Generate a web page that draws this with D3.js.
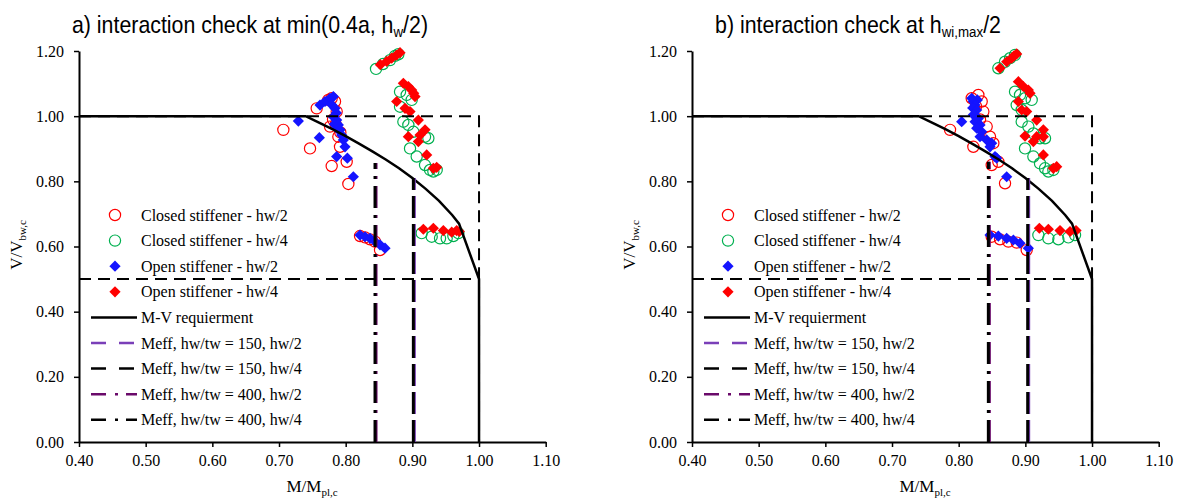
<!DOCTYPE html>
<html><head><meta charset="utf-8">
<script src="https://cdn.jsdelivr.net/npm/d3@7/dist/d3.min.js"></script>
<style>body{margin:0;background:#fff}svg{display:block}</style>
</head><body>
<svg id="c" width="1182" height="504"></svg>
<script>
// ---------- data ----------
const xTicks = [0.4,0.5,0.6,0.7,0.8,0.9,1.0,1.1];
const yTicks = [0,0.2,0.4,0.6,0.8,1.0,1.2];

// M-V requirement curve (same in both panels)
const mvX = [0.40,0.74,0.76,0.78,0.80,0.82,0.84,0.86,0.88,0.90,0.92,0.94,0.96,0.97,1.00,1.00];
const mvY = [1.00,1.00,0.980,0.960,0.939,0.916,0.892,0.867,0.840,0.810,0.777,0.740,0.696,0.670,0.50,0.00];

// dashed limits
const limitBoxX = [0.40,1.00,1.00];
const limitBoxY = [1.00,1.00,0.00];
const limitHalfX = [0.40,1.00];
const limitHalfY = [0.50,0.50];

// Meff vertical lines [x, top]
const meff150_a = [0.9015,0.810];
const meff400_a = [0.8440,0.856];
const meff150_b = [0.9035,0.810];
const meff400_b = [0.8445,0.860];

// panel a) points
const closedHw2_a = [[0.7065,0.958],[0.7565,1.024],[0.779,1.055],[0.784,1.045],[0.7865,1.014],[0.774,1.050],[0.781,0.990],[0.7765,0.968],[0.785,0.975],[0.792,0.950],[0.789,0.937],[0.7465,0.901],[0.7915,0.906],[0.779,0.847],[0.8015,0.860],[0.804,0.792],
  [0.8215,0.632],[0.829,0.628],[0.8365,0.622],[0.844,0.615],[0.8515,0.589]];
const closedHw4_a = [[0.8455,1.145],[0.856,1.160],[0.8665,1.172],[0.874,1.185],[0.879,1.190],
  [0.8815,1.075],[0.8915,1.065],[0.899,1.050],[0.8815,1.029],[0.8865,0.983],[0.894,0.973],[0.9015,0.952],[0.919,0.937],[0.924,0.932],[0.8965,0.901],[0.9065,0.876],[0.919,0.850],[0.9265,0.835],[0.9315,0.830],[0.9365,0.835],
  [0.914,0.641],[0.929,0.630],[0.9415,0.625],[0.9515,0.625],[0.9615,0.632],[0.969,0.641]];
const openHw2_a = [[0.729,0.985],[0.7615,1.034],[0.769,1.045],[0.7765,1.055],[0.7815,1.060],[0.779,1.035],[0.784,1.024],[0.786,1.010],[0.7815,0.998],[0.7865,0.988],[0.783,0.975],[0.789,0.973],[0.788,0.960],[0.7915,0.958],[0.794,0.942],[0.7965,0.927],[0.799,0.906],[0.7605,0.934],[0.7865,0.876],[0.8025,0.871],[0.8115,0.814],
  [0.8215,0.635],[0.829,0.630],[0.8365,0.625],[0.844,0.615],[0.8515,0.605],[0.859,0.595]];
const openHw4_a = [[0.852,1.158],[0.8615,1.168],[0.869,1.178],[0.876,1.187],[0.8815,1.195],
  [0.8865,1.101],[0.894,1.091],[0.899,1.080],[0.902,1.070],[0.904,1.060],[0.8765,1.045],[0.889,1.024],[0.8965,1.014],[0.909,0.988],[0.919,0.958],[0.894,0.937],[0.9115,0.942],[0.909,0.922],[0.9215,0.881],[0.9315,0.840],[0.9365,0.843],
  [0.9165,0.653],[0.9315,0.656],[0.9465,0.649],[0.959,0.644],[0.9665,0.649],[0.9705,0.646]];

// panel b) points
const closedHw2_b = [[0.787,0.958],[0.822,0.906],[0.8495,0.850],[0.8595,0.860],[0.8695,0.794],[0.8195,1.055],[0.8295,1.065],[0.8345,1.045],[0.826,1.030],[0.837,1.014],[0.832,0.990],[0.842,0.968],[0.847,0.937],[0.852,0.917],
  [0.8495,0.630],[0.862,0.622],[0.8745,0.615],[0.887,0.612],[0.902,0.589]];
const closedHw4_b = [[0.8595,1.147],[0.8695,1.167],[0.877,1.178],[0.8845,1.188],
  [0.8845,1.075],[0.892,1.065],[0.8995,1.055],[0.9095,1.050],[0.887,1.034],[0.8945,1.019],[0.8945,0.983],[0.9045,0.968],[0.912,0.947],[0.922,0.932],[0.9295,0.932],[0.8995,0.901],[0.912,0.876],[0.922,0.855],[0.9295,0.840],[0.9345,0.830],[0.942,0.835],
  [0.9195,0.635],[0.9345,0.625],[0.9495,0.622],[0.9645,0.628],[0.9745,0.635]];
const openHw2_b = [[0.8045,0.983],[0.8195,1.055],[0.828,1.050],[0.822,1.045],[0.8245,1.034],[0.821,1.025],[0.827,1.019],[0.822,1.004],[0.8295,0.993],[0.8245,0.983],[0.832,0.973],[0.827,0.963],[0.8345,0.952],[0.832,0.937],[0.842,0.927],[0.8495,0.917],[0.847,0.906],[0.8545,0.876],[0.857,0.871],[0.872,0.814],
  [0.847,0.635],[0.8595,0.632],[0.872,0.625],[0.882,0.620],[0.892,0.610],[0.9045,0.595]];
const openHw4_b = [[0.862,1.147],[0.872,1.167],[0.8795,1.178],[0.883,1.185],[0.887,1.191],
  [0.8895,1.106],[0.897,1.091],[0.9045,1.080],[0.907,1.070],[0.8895,1.045],[0.8945,1.019],[0.902,1.014],[0.917,0.988],[0.927,0.958],[0.8995,0.939],[0.917,0.937],[0.927,0.937],[0.912,0.922],[0.927,0.881],[0.942,0.840],[0.947,0.845],
  [0.921,0.656],[0.9345,0.653],[0.952,0.649],[0.967,0.646],[0.976,0.649]];

const legendLabels = ["Closed stiffener - hw/2","Closed stiffener - hw/4","Open stiffener - hw/2","Open stiffener - hw/4",
  "M-V requierment","Meff, hw/tw = 150, hw/2","Meff, hw/tw = 150, hw/4","Meff, hw/tw = 400, hw/2","Meff, hw/tw = 400, hw/4"];

// ---------- styles ----------
const C_RED="#ff0000", C_GREEN="#00b050", C_BLUE="#1414ff", C_PURPLE="#7a3fb8", C_DPURPLE="#6a0a6a";
const serif="'Liberation Serif','Times New Roman',serif";
const sans="'Liberation Sans',Arial,sans-serif";
const svg=d3.select("#c");
const diamond="M0,-5.6L5.6,0L0,5.6L-5.6,0Z";

const panels=[
 {ox:79, title:["a) interaction check at min(0.4a, h","w","/2)"], tx:250,
  cl2:closedHw2_a, cl4:closedHw4_a, op2:openHw2_a, op4:openHw4_a, m150:meff150_a, m400:meff400_a},
 {ox:692, title:["b) interaction check at h","wi,max","/2"], tx:858,
  cl2:closedHw2_b, cl4:closedHw4_b, op2:openHw2_b, op4:openHw4_b, m150:meff150_b, m400:meff400_b}
];

panels.forEach(p=>{
  const x=d3.scaleLinear().domain([0.4,1.1]).range([p.ox,p.ox+466.7]);
  const y=d3.scaleLinear().domain([0,1.2]).range([442,51]);
  const g=svg.append("g");

  // title (condensed like the original)
  const t=g.append("text").attr("transform",`translate(${p.tx},33) scale(0.89,1)`).attr("text-anchor","middle")
    .attr("font-family",sans).attr("font-size",24).attr("fill","#000");
  t.append("tspan").text(p.title[0]);
  t.append("tspan").attr("font-size",15).attr("dy",4).text(p.title[1]);
  t.append("tspan").attr("dy",-4).text(p.title[2]);

  // axes
  const ax=g.append("g").attr("transform","translate(0,442)")
    .call(d3.axisBottom(x).tickValues(xTicks).tickFormat(d3.format(".2f")).tickSize(5).tickSizeOuter(0).tickPadding(8));
  const ay=g.append("g").attr("transform",`translate(${p.ox},0)`)
    .call(d3.axisLeft(y).tickValues(yTicks).tickFormat(d3.format(".2f")).tickSize(5).tickSizeOuter(0).tickPadding(10));
  [ax,ay].forEach(a=>{
    a.selectAll("path.domain").attr("stroke","#000").attr("stroke-width",2);
    a.selectAll(".tick line").attr("stroke","#000").attr("stroke-width",1.5);
    a.selectAll("text").attr("font-family",serif).attr("font-size",16).attr("fill","#000");
  });

  // axis titles
  const xt=g.append("text").attr("x",p.ox+233).attr("y",492).attr("text-anchor","middle")
    .attr("font-family",serif).attr("font-size",17);
  xt.append("tspan").text("M/M");
  xt.append("tspan").attr("font-size",11).attr("dy",4).text("pl,c");
  const yt=g.append("text").attr("transform",`translate(${p.ox-57},245) rotate(-90)`).attr("text-anchor","middle")
    .attr("font-family",serif).attr("font-size",17);
  yt.append("tspan").text("V/V");
  yt.append("tspan").attr("font-size",11).attr("dy",4).text("bw,c");

  // markers
  g.append("g").selectAll("circle").data(p.cl2).join("circle")
    .attr("cx",d=>x(d[0])).attr("cy",d=>y(d[1])).attr("r",5.6)
    .attr("fill","none").attr("stroke",C_RED).attr("stroke-width",1.2);
  g.append("g").selectAll("circle").data(p.cl4).join("circle")
    .attr("cx",d=>x(d[0])).attr("cy",d=>y(d[1])).attr("r",5.6)
    .attr("fill","none").attr("stroke",C_GREEN).attr("stroke-width",1.2);
  g.append("g").selectAll("path").data(p.op2).join("path")
    .attr("d",diamond).attr("transform",d=>`translate(${x(d[0])},${y(d[1])})`).attr("fill",C_BLUE);
  g.append("g").selectAll("path").data(p.op4).join("path")
    .attr("d",diamond).attr("transform",d=>`translate(${x(d[0])},${y(d[1])})`).attr("fill",C_RED);

  // lines
  const line=d3.line().x(d=>x(d[0])).y(d=>y(d[1]));
  const box=limitBoxX.map((v,i)=>[v,limitBoxY[i]]);
  const half=limitHalfX.map((v,i)=>[v,limitHalfY[i]]);
  g.append("path").attr("d",line(box)).attr("fill","none").attr("stroke","#000").attr("stroke-width",2).attr("stroke-dasharray","12,7");
  g.append("path").attr("d",line(half)).attr("fill","none").attr("stroke","#000").attr("stroke-width",2).attr("stroke-dasharray","12,7");
  const mv=mvX.map((v,i)=>[v,mvY[i]]);
  g.append("path").attr("d",line(mv)).attr("fill","none").attr("stroke","#000").attr("stroke-width",2.5);
  // Meff lines: purple (hw/2) slightly offset under black (hw/4)
  const vline=(m,dx,color,dash)=>g.append("path")
    .attr("d",`M${x(m[0])+dx},${y(0)}L${x(m[0])+dx},${y(m[1])}`)
    .attr("fill","none").attr("stroke",color).attr("stroke-width",3).attr("stroke-dasharray",dash);
  vline(p.m150,1,C_PURPLE,"22,6");
  vline(p.m150,0,"#000","22,6");
  vline(p.m400,1,C_DPURPLE,"22,7,3,7");
  vline(p.m400,0,"#000","22,7,3,7");

  // legend
  const lg=g.append("g");
  const lx=p.ox+36, y0=215, step=25.6;
  legendLabels.forEach((lab,i)=>{
    const yy=y0+i*step;
    lg.append("text").attr("x",p.ox+62).attr("y",yy).attr("dy","0.35em")
      .attr("font-family",serif).attr("font-size",16).attr("fill","#000").text(lab);
  });
  lg.append("circle").attr("cx",lx).attr("cy",y0).attr("r",5.6).attr("fill","none").attr("stroke",C_RED).attr("stroke-width",1.2);
  lg.append("circle").attr("cx",lx).attr("cy",y0+step).attr("r",5.6).attr("fill","none").attr("stroke",C_GREEN).attr("stroke-width",1.2);
  lg.append("path").attr("d",diamond).attr("transform",`translate(${lx},${y0+2*step})`).attr("fill",C_BLUE);
  lg.append("path").attr("d",diamond).attr("transform",`translate(${lx},${y0+3*step})`).attr("fill",C_RED);
  const legLine=(i,color,dash,w)=>lg.append("line").attr("x1",p.ox+12).attr("x2",p.ox+58)
    .attr("y1",y0+i*step).attr("y2",y0+i*step).attr("stroke",color).attr("stroke-width",w)
    .attr("stroke-dasharray",dash);
  legLine(4,"#000",null,2.5);
  legLine(5,C_PURPLE,"15,13",2.5);
  legLine(6,"#000","15,13",2.5);
  legLine(7,C_DPURPLE,"15,9,3,8",2.5);
  legLine(8,"#000","15,9,3,8",2.5);
});
</script>
</body></html>
